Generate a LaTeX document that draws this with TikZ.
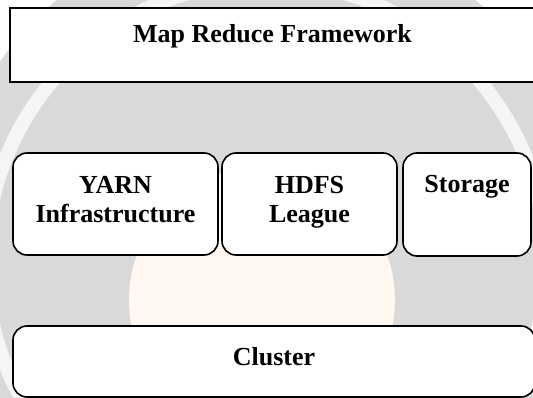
\documentclass[tikz,border=0pt]{standalone}
\usepackage{fontspec}
\setmainfont{Liberation Serif}
\usetikzlibrary{positioning}
\begin{document}
\begin{tikzpicture}[x=1pt, y=-1pt,
  every node/.style={font=\fontsize{26}{29}\selectfont\bfseries, align=center, inner sep=0pt},
  layer/.style={draw, line width=1.6pt, fill=white},
  block/.style={layer, rounded corners=14pt}]
\useasboundingbox (0,0) rectangle (533,398);
\clip (0,0) rectangle (533,398);
% faint backdrop
\fill[black!15] (266,250) circle (326);
\draw[black!4, line width=14pt] (266,262) circle (280);
\fill[orange!6] (262,300) circle (133);
% framework on top
\node[layer, minimum width=525pt, minimum height=74pt] (mrf) at (272.5,45) {};
\node[below=17pt of mrf.north] (mrft) {Map Reduce Framework};
% middle row
\node[block, minimum width=205pt, minimum height=102pt] (yarn) at (115.5,204) {};
\node[below=24pt of yarn.north] (yarnt) {YARN\\Infrastructure};
\node[block, minimum width=175pt, minimum height=102pt] (hdfs) at (309.5,204) {};
\node[below=24pt of hdfs.north] (hdfst) {HDFS\\League};
\node[block, minimum width=128pt, minimum height=103pt] (store) at (467,204.5) {};
\node[below=23pt of store.north] (storet) {Storage};
% cluster at the bottom
\node[block, minimum width=522pt, minimum height=71pt] (cluster) at (274,361.5) {};
\node[below=22pt of cluster.north] (clustert) {Cluster};
\end{tikzpicture}
\end{document}
